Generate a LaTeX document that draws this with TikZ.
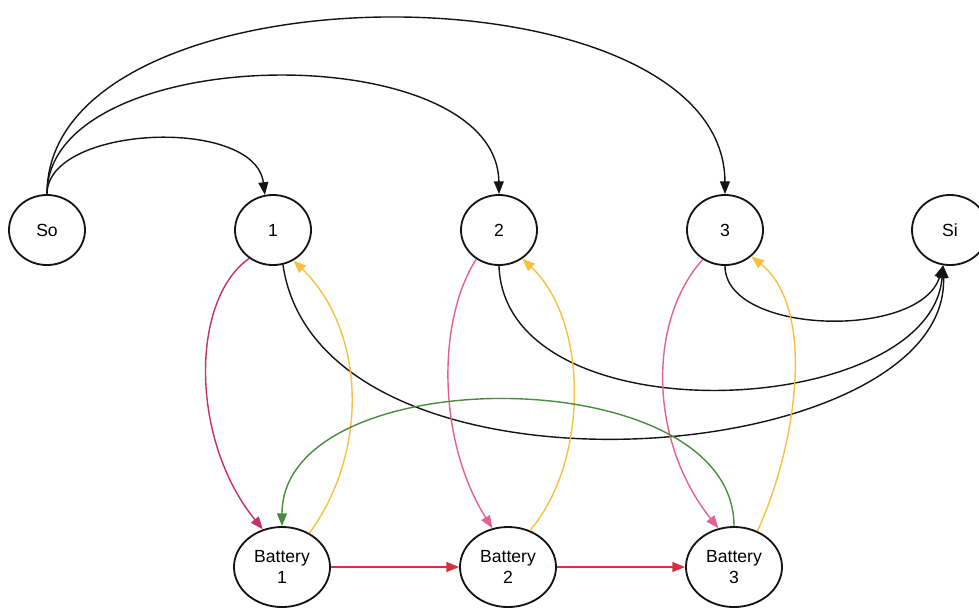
\documentclass[tikz,border=0pt]{standalone}
\usepackage{fontspec}
\setmainfont{Liberation Sans}
\definecolor{flowblack}{RGB}{20, 20, 20}
\definecolor{chargecrimson}{RGB}{196, 48, 104}
\definecolor{chargepink}{RGB}{226, 100, 140}
\definecolor{dischargeyellow}{RGB}{248, 192, 64}
\definecolor{transfergreen}{RGB}{74, 140, 62}
\definecolor{storered}{RGB}{210, 50, 60}
\usetikzlibrary{
  arrows.meta,
  positioning,
  shapes.geometric
}

\begin{document}
\begin{tikzpicture}[x=0.025cm, y=-0.025cm,
  vertex/.style={ellipse, draw=flowblack, line width=1.3pt, fill=white,
    minimum width=1.9cm, minimum height=1.75cm, inner sep=0pt,
    font=\fontsize{12.5}{14.5}\selectfont},
  battery/.style={vertex, minimum width=2.4cm, minimum height=2.0cm, align=center},
  flow/.style={line width=1pt, -{Triangle[length=9pt, width=7pt]}}
]
\useasboundingbox (0,0) rectangle (979,608);

\node[vertex] (so) at (47,230) {So};
\node[vertex] (n1) at (273,230) {1};
\node[vertex] (n2) at (499,230) {2};
\node[vertex] (n3) at (725,230) {3};
\node[vertex] (si) at (950,230) {Si};

\node[battery] (b1) at (282,567) {Battery\\1};
\node[battery] (b2) at (508,567) {Battery\\2};
\node[battery] (b3) at (734,567) {Battery\\3};

\draw[flow, flowblack] (so.north) .. controls (47,125) and (255,116) .. (n1.103);
\draw[flow, flowblack] (so.north) .. controls (47,40) and (497,35) .. (n2.north);
\draw[flow, flowblack] (so.north) .. controls (47,-40) and (724,-40) .. (n3.north);

\draw[flow, flowblack] (n3.south) .. controls (725,335) and (920,340) .. (si.-101);
\draw[flow, flowblack] (n2.south) .. controls (505,440) and (930,420) .. (si.-101);
\draw[flow, flowblack] (n1.-74) .. controls (320,520) and (950,470) .. (si.-101);

\draw[flow, chargecrimson] (n1.-130) .. controls (190,300) and (190,440) .. (b1.117);
\draw[flow, chargepink] (n2.-128) .. controls (437,320) and (437,440) .. (b2.112);
\draw[flow, chargepink] (n3.-127) .. controls (648,320) and (648,440) .. (b3.112);

\draw[flow, dischargeyellow] (b1.51) .. controls (370,450) and (365,330) .. (n1.-56);
\draw[flow, dischargeyellow] (b2.59) .. controls (590,460) and (588,320) .. (n2.-51);
\draw[flow, dischargeyellow] (b3.57) .. controls (795,450) and (818,310) .. (n3.-45);

\draw[flow, transfergreen] (b3.north) .. controls (734,358) and (282,358) .. (b1.north);

\draw[flow, storered] (b1) -- (b2);
\draw[flow, storered] (b2) -- (b3);
\end{tikzpicture}
\end{document}
